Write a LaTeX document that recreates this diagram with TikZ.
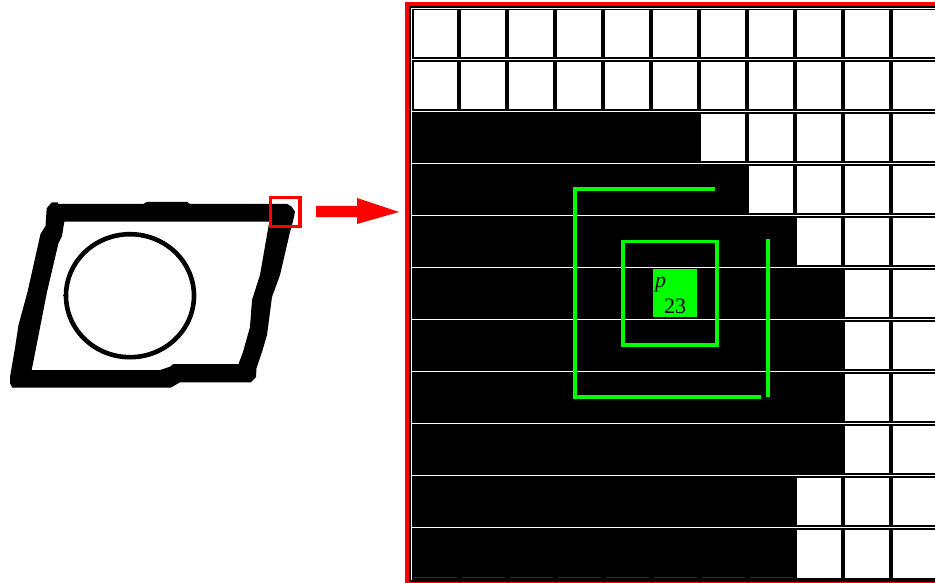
\documentclass[tikz,border=0pt]{standalone}
\usepackage{fontspec}
\setmainfont{Liberation Serif}
\definecolor{gr}{RGB}{0,255,0}
\definecolor{rd}{RGB}{255,0,0}
\definecolor{gy}{RGB}{50,50,50}
\tikzset{
  greenline/.style={draw=gr,line width=3.3pt,line join=miter},
  cellwhite/.style={fill=white,draw=none},
  hairline/.style={fill=white,draw=none},
  px/.style={x=1pt,y=-1pt},
}
\begin{document}
\begin{tikzpicture}[px]
\useasboundingbox (0,0) rectangle (935,583);
\fill[white] (0,0) rectangle (935,583);
% left shape
\fill[black,even odd rule]
 (46.7,208.3)--(51.7,202.3)--(57.7,202.3)--(58.3,204)--(143.3,204)--(146.7,202)--(187.3,202)--(190,204)--(287.3,204)--(291.7,206.7)--(295,211.7)--(293.3,220)--(290,232)--(280,275)--(272,297)--(267,335)--(262,352)--(256.5,368)--(256,377)--(250.7,382.3)--(180,382.3)--(170.7,387.7)--(12.3,387.7)--(10,383)--(10,377)--(15,348)--(18.5,325)--(27.5,292)--(40.5,234)--(45.5,226)--cycle
 (64.3,221.7)--(269.3,221.7)--(260,275)--(252,300)--(250,327)--(243,352)--(238.5,364)--(173.3,364)--(170,366.7)--(160,370)--(31.7,370)--(47,292)--(58.5,243)--(62,236)--cycle;
\draw[black,line width=4.6pt] (130,295.7) ellipse [x radius=64,y radius=61.5];
\draw[black,line width=1pt] (62.5,295) -- (66,295);
\draw[rd,line width=3.3pt] (270.6,197.3) rectangle (300.1,226.7);
\fill[rd] (316,206)--(357,206)--(357,198)--(399,212)--(357,224)--(357,217)--(316,217)--cycle;
% zoomed panel
\fill[rd] (405,2) rectangle (935,583);
\fill[black] (409,6) rectangle (935,582);
\fill[white] (411,8) rectangle (935,9);
\fill[white] (411,8) rectangle (412,580);
\foreach \r/\e in {0/0,1/0,2/701,3/749,4/797,5/845,6/845,7/845,8/845,9/797,10/797}{
  \pgfmathsetmacro{\ya}{10+52*\r}
  \pgfmathsetmacro{\yb}{(\r==10)?578:(57+52*\r)}
  \foreach \c in {0,...,10}{
    \pgfmathsetmacro{\xa}{414+48*\c-(\c>0?1:0)}
    \pgfmathsetmacro{\xb}{min(457+48*\c,935)}
    \ifdim\xa pt<\e pt
    \else
      \fill[cellwhite] (\xa,\ya) rectangle (\xb,\yb);
    \fi
  }
}
\foreach \r in {0,...,9}{
  \fill[hairline] (412,{59+52*\r}) rectangle (935,{60+52*\r});
}
\foreach \c in {0,1,2,3,4,5,6,7}{
  \fill[gy] ({414+48*\c},576.5) rectangle ({457+48*\c},577.5);
}
% green marks
\draw[greenline] (715,189)--(575,189)--(575,397)--(761,397);
\draw[greenline] (768,239)--(768,397);
\draw[greenline] (623,241.5) rectangle (717,345);
\fill[gr] (653,269) rectangle (697,317);
\node[font=\fontsize{22}{22}\selectfont\itshape,text=black,inner sep=0pt,anchor=base] (plabel) at (660.5,287) {p};
\node[font=\fontsize{22}{22}\selectfont,text=black,inner sep=0pt,anchor=base] (sublabel) at (675,313) {23};
\end{tikzpicture}
\end{document}
